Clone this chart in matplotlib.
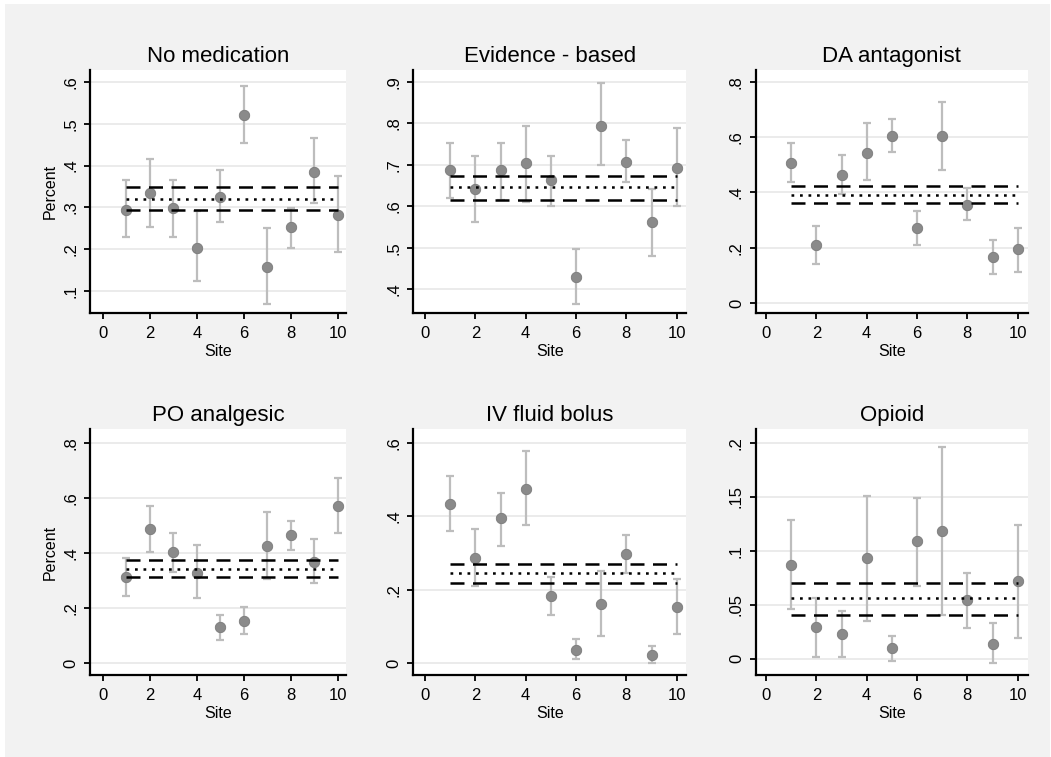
import numpy as np
import matplotlib
matplotlib.use("Agg")
import matplotlib.pyplot as plt
from matplotlib.patches import Rectangle
from matplotlib.ticker import FuncFormatter

plt.rcParams['font.family'] = ['Liberation Sans', 'DejaVu Sans']

sites = np.arange(1, 11)

titles = ["No medication", "Evidence - based", "DA antagonist",
          "PO analgesic", "IV fluid bolus", "Opioid"]

# point estimates per site
est_nomed = [0.295, 0.335, 0.299, 0.204, 0.325, 0.520, 0.158, 0.254, 0.384, 0.283]
est_evid = [0.688, 0.642, 0.688, 0.703, 0.663, 0.430, 0.794, 0.707, 0.561, 0.692]
est_da = [0.506, 0.210, 0.464, 0.544, 0.604, 0.271, 0.604, 0.355, 0.167, 0.197]
est_po = [0.313, 0.486, 0.405, 0.328, 0.129, 0.154, 0.426, 0.464, 0.366, 0.570]
est_iv = [0.434, 0.285, 0.395, 0.474, 0.183, 0.035, 0.160, 0.297, 0.023, 0.153]
est_op = [0.087, 0.029, 0.023, 0.093, 0.0096, 0.109, 0.118, 0.054, 0.0133, 0.0716]

# confidence interval bounds
lo_nomed = [0.230, 0.254, 0.230, 0.124, 0.266, 0.454, 0.069, 0.204, 0.311, 0.194]
hi_nomed = [0.365, 0.415, 0.365, 0.292, 0.389, 0.590, 0.250, 0.299, 0.466, 0.375]
lo_evid = [0.620, 0.561, 0.615, 0.611, 0.601, 0.365, 0.698, 0.658, 0.480, 0.601]
hi_evid = [0.753, 0.722, 0.753, 0.794, 0.722, 0.496, 0.896, 0.759, 0.642, 0.789]
lo_da = [0.438, 0.143, 0.395, 0.444, 0.545, 0.211, 0.482, 0.302, 0.107, 0.113]
hi_da = [0.580, 0.279, 0.536, 0.650, 0.664, 0.332, 0.726, 0.415, 0.228, 0.272]
lo_po = [0.244, 0.403, 0.329, 0.236, 0.084, 0.105, 0.304, 0.410, 0.289, 0.472]
hi_po = [0.382, 0.570, 0.472, 0.427, 0.174, 0.205, 0.548, 0.517, 0.449, 0.671]
lo_iv = [0.360, 0.211, 0.320, 0.377, 0.131, 0.012, 0.074, 0.246, 0.000, 0.079]
hi_iv = [0.508, 0.365, 0.463, 0.577, 0.233, 0.064, 0.251, 0.348, 0.045, 0.229]
lo_op = [0.0463, 0.002, 0.002, 0.0349, -0.002, 0.0676, 0.0404, 0.0287, -0.004, 0.0194]
hi_op = [0.128, 0.056, 0.0444, 0.151, 0.021, 0.149, 0.196, 0.0796, 0.0327, 0.124]

# overall mean with lower / upper bound
overall = [(0.320, 0.294, 0.349), (0.647, 0.616, 0.672), (0.392, 0.361, 0.423),
           (0.343, 0.313, 0.375), (0.246, 0.217, 0.269), (0.0559, 0.0404, 0.070)]

yticks = [[0.1, 0.2, 0.3, 0.4, 0.5, 0.6], [0.4, 0.5, 0.6, 0.7, 0.8, 0.9],
          [0, 0.2, 0.4, 0.6, 0.8], [0, 0.2, 0.4, 0.6, 0.8],
          [0, 0.2, 0.4, 0.6], [0, 0.05, 0.1, 0.15, 0.2]]

ests = [est_nomed, est_evid, est_da, est_po, est_iv, est_op]
los = [lo_nomed, lo_evid, lo_da, lo_po, lo_iv, lo_op]
his = [hi_nomed, hi_evid, hi_da, hi_po, hi_iv, hi_op]

W, H = 1051, 757
fig = plt.figure(figsize=(W / 100, H / 100), dpi=100)
fig.patch.set_facecolor('white')
fig.patches.append(Rectangle((5 / W, 0), (W - 6) / W, (H - 4) / H,
                             transform=fig.transFigure, facecolor='#f2f2f2',
                             edgecolor='none', zorder=0))

# pixel boxes: left, right, top, bottom
cols = [(90, 346), (413.3, 686), (755.7, 1028)]
rows = [(70, 313.3), (429.3, 675)]
xlims = [(-0.55, 10.35), (-0.465, 10.37), (-0.41, 10.41)]
ylims = [(0.0467, 0.6287), (0.342, 0.928), (-0.036, 0.842),
         (-0.0436, 0.849), (-0.0327, 0.6365), (-0.0151, 0.2124)]


def stata_fmt(v, pos=None):
    if abs(v) < 1e-9:
        return "0"
    s = f"{v:g}"
    return s.replace("0.", ".", 1)


for i in range(6):
    r, c = divmod(i, 3)
    L, R = cols[c]
    T, B = rows[r]
    ax = fig.add_axes([L / W, 1 - B / H, (R - L) / W, (B - T) / H])
    ax.set_facecolor('white')
    ax.set_zorder(2)

    est = np.array(ests[i])
    lo = np.array(los[i])
    hi = np.array(his[i])

    for yv in yticks[i]:
        ax.axhline(yv, color='#ebebeb', lw=1.4, zorder=0)

    ax.errorbar(sites, est, yerr=[est - lo, hi - est], fmt='none',
                ecolor='#bdbdbd', elinewidth=1.6, capsize=3.2, capthick=1.6,
                zorder=2)
    ax.plot(sites, est, 'o', color='#8a8a8a', markersize=7.5,
            markeredgecolor='#7a7a7a', markeredgewidth=0.6, zorder=3)

    m, low, up = overall[i]
    xs = [1, 10]
    ax.plot(xs, [up, up], color='black', lw=1.8, dashes=(5.6, 3.4), zorder=4)
    ax.plot(xs, [low, low], color='black', lw=1.8, dashes=(5.6, 3.4), zorder=4)
    ax.plot(xs, [m, m], color='black', lw=1.8, dashes=(1.1, 2.3), zorder=4)

    ax.set_xlim(*xlims[c])
    ax.set_ylim(*ylims[i])
    ax.set_xticks([0, 2, 4, 6, 8, 10])
    ax.set_yticks(yticks[i])
    ax.yaxis.set_major_formatter(FuncFormatter(stata_fmt))

    for side in ['top', 'right']:
        ax.spines[side].set_visible(False)
    for side in ['left', 'bottom']:
        ax.spines[side].set_linewidth(1.6)
        ax.spines[side].set_color('black')

    ax.tick_params(axis='both', direction='out', length=4.5, width=1.3,
                   labelsize=12, colors='black')
    ax.tick_params(axis='x', pad=5)
    ax.tick_params(axis='y', pad=4, labelrotation=90)
    for lab in ax.get_yticklabels():
        lab.set_va('center')

    ax.set_title(titles[i], fontsize=16, pad=6)
    ax.set_xlabel("Site", fontsize=11.5, labelpad=2)
    if c == 0:
        ax.set_ylabel("Percent", fontsize=11.5, labelpad=4)

fig.savefig("out.png", dpi=100, facecolor=fig.get_facecolor())
